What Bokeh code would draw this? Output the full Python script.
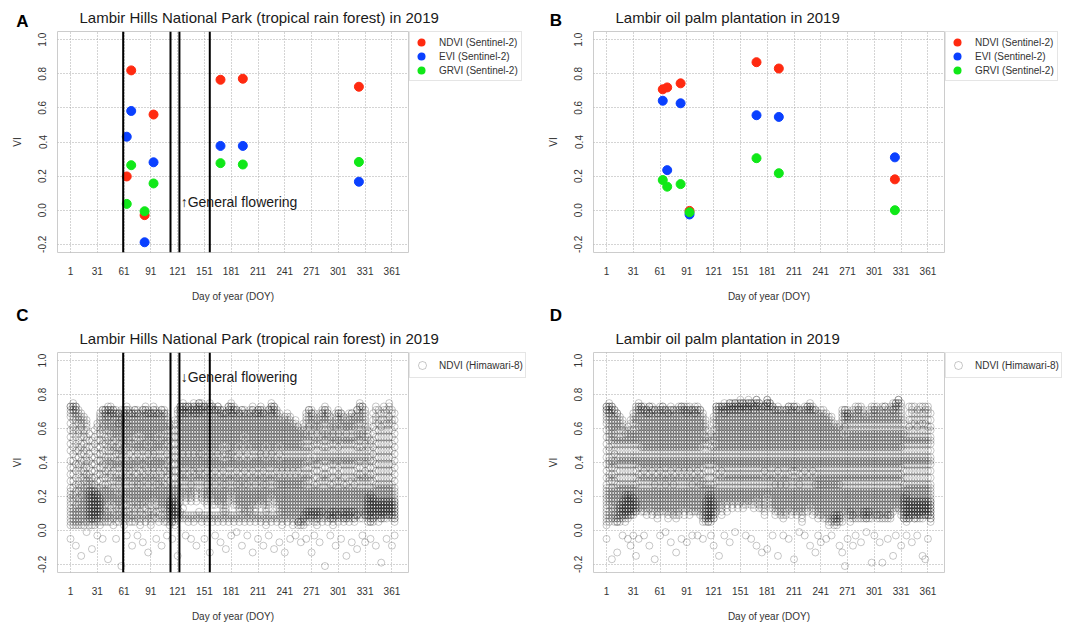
import numpy as np
from bokeh.plotting import figure
from bokeh.models import (Range1d, FixedTicker, PrintfTickFormatter, Legend,
                          LegendItem, Span, Label)
from bokeh.layouts import column, row
from bokeh.embed import file_html
from bokeh.resources import INLINE

# ---------------- data ----------------
x_ticks = [1, 31, 61, 91, 121, 151, 181, 211, 241, 271, 301, 331, 361]
y_ticks = [-0.2, 0.0, 0.2, 0.4, 0.6, 0.8, 1.0]
flowering_doy = [60, 113, 123, 157]

sent_doy = [64, 69, 84, 94, 169, 194, 324]
forest_ndvi = [0.198, 0.820, -0.029, 0.561, 0.765, 0.771, 0.724]
forest_evi = [0.431, 0.582, -0.188, 0.281, 0.377, 0.377, 0.167]
forest_grvi = [0.037, 0.264, -0.006, 0.157, 0.276, 0.268, 0.283]
palm_ndvi = [0.709, 0.720, 0.744, -0.004, 0.868, 0.831, 0.181]
palm_evi = [0.642, 0.235, 0.627, -0.025, 0.557, 0.547, 0.310]
palm_grvi = [0.177, 0.138, 0.153, -0.012, 0.305, 0.217, 0.000]

# Himawari-8 NDVI observations read from the scatter clouds, "DOY: codes".
# Each code letter is one observation: A=-0.25, B=-0.23, ... (steps of 0.02) ... z=0.77
CODE = "ABCDEFGHIJKLMNOPQRSTUVWXYZabcdefghijklmnopqrstuvwxyz"

forest_him = [
    "1: xxwvusqomkhfdbZYXWVUTSRQPOK", "4: yxxwwvutrqpnljhfdbZXWVTSRQPO",
    "7: xxwwvutsqomkigecaYXWUTSRQPOI", "10: wvutsqpnlkigfdbaZYWVUTSRQPO",
    "13: vutsrqomljhgecaZYXWVUTSRQPOF", "16: utsqpomkjhfedcbZYXWVUTSRQPO",
    "19: tsrqonlkihgfdcbaZYXWVUTSRQPM", "22: pnljhfdcbaZYYXXWWVVUUTTSSRRQQPO",
    "25: nligecbaZYYXXWWVVUUTTSSRRQQPOH", "28: qomkigecaZYYXXWWVVUUTTSSRRQQPO",
    "31: srpnljhfdbZYXXWWVVUUTTSSRRQQPL", "34: vutsqpnljhfdbZYXWWVVUUTTSSRRQPO",
    "37: wwvutsrqpnmkjhgfdcaZYXWVUTSRQPK", "40: wwvvutsrqonmkihgedcaZYXWVUTSRQP",
    "43: xwwvuutsrqonlkihfecaZYXWVUSRQPE", "46: xwwvvutsrqpomlkihgfdcbZYXWVTSRQP",
    "49: wwvvutsrqponmlkihgfecbZYXWVUSRQO", "52: wvvutsrqponlkjhgfdcbZYXWVUTRQPK",
    "55: vvutssrqpomlkjhgfdcbaZXWVUTSRQP", "58: wvuttsrqponmkjihgfdcbZYXWVUTSRQC",
    "61: wvvutsrqponmlkjhgfecbZYXWVUSRQPO", "64: xwwvutssrqponmlkihgfdcbZYXWUSRQL",
    "67: wvvutsrqponmljhgfedcbZYXWVUTSRQP", "70: vvutsrqpomlkihgfecbaZYXWVUTRQPI",
    "73: wwvvutsrqponmlkihgfdcbZYXWVTSRQP", "76: wvvutsrqpnmlkjhgfdcbaZYXWVUTRQL",
    "79: vutsrqpnmlkihgfecbaZYXWVUTSRQPO", "82: wwvutsrqponmlkihgedcbZYXWVUTRQJ",
    "85: xwwvvutsrqponmlkihgfdcbZYXWVTRQP", "88: wvvutsrqponlkjhgfecbaZYXWVUSRQG",
    "91: vvutsrqponmlkihgfdcbZYXWVUTSRQPO", "94: xwwvvutsrqponmlkjihgfedcbZYXWSRQ",
    "97: wvvutsrqponmlkihgfdcbaZYXWVUSQK", "100: vvutsrqpnmlkihgfecbaZYXWVUTSRQP",
    "103: wwvutsrqponmlkihgfdcbZYXWVUTRQI", "106: wvvutsrqponmlkihgfecbaZYXWVUTRQP",
    "109: vutsrqonmkjhgedcaZYXWVUTSRQPL", "112: srqonlkihfedbZYXWVVUUTTSSRRQPO",
    "115: qomkigecaZYXWWVVUUTTSSRRQQPPK", "118: tsqomkigecaZYXWVVUUTTSSRRQQPO",
    "121: wvtsqomkigecaZYXWVUUTTSSRRQQF", "124: xxwwvvutsrqponmlkihgfdcbZYXWVSRQ",
    "127: yxxwwvvutsrqponmlkjihgfedcbZYTRQ", "130: xxwvvutsrqponmlkihgfdcbZYXWVRQL",
    "133: xxwwvvutsrqponmlkjihgfdcbZYXWRQP", "136: xwwvutsrqponmlkihgfecbaZYXWVRQK",
    "139: yxxwwvvutsrqponmlkjihgfedcbZYRQP", "142: xwwvvutsrqponmlkihgfdcbZYXWVRQI",
    "145: yyxxwwvvutsrqponmlkjihgfedcbZSRQ", "148: yxxwwvutsrqponmlkjihgfdcbZYXWRQP",
    "151: xxwvvutsrqponmlkihgfdcbZYXWVRQK", "154: xwwvutsrqponmlkihgfecbaZYXWVURQP",
    "157: yxxwwvutsrqponmlkjihgfdcbZYXRQG", "160: xxwwvutsrqponmlkihgfdcbZYXWVURQP",
    "163: wwvutsrqponmlkihgfecbaZYXWVURQL", "166: xxwwvutsrqponmlkjihgfdcbZYXWVRQP",
    "169: wwvvutsrqponmlkihgfdcbZYXWVURQJ", "172: wvvutsrqponmkjhgfecbaZYXWVUTSRQP",
    "175: vvutsrqponmkjhgfdcbaZYXWVUTSRQH", "178: xxwwvutsrqponmlkjihgfdcbZYXWVRQP",
    "181: yxxwwvvutsrqponmlkjihgfdcbZYRQL", "184: xwwvvutsrqponmlkihgfdcbZYXWVURQP",
    "187: wwvutsrqponmlkihgfecbaZYXWVURQM", "190: vvutsrqponmkjhgfdcbaZYXWVUTSRQP",
    "193: wwvutsrqponmlkihgfdcbZYXWVUTRQI", "196: wvvutsrqpnmlkihgfecbaZYXWVUTSRQP",
    "199: vutsrqponmkjhgfdcbaZYXWVUTSRQL", "202: wvvutsrqponmlkihgfdcbZYXWVUTSRQP",
    "205: xwwvutsrqponmlkihgfecbZYXWVURQG", "208: vvutsrqponmlkihgfdcbaZYXWVUTSRQP",
    "211: wwvvutsrqponmlkihgfdcbZYXWVURQK", "214: xwwvvutsrqponmlkjihgfdcbZYXWVRQP",
    "217: wvvutsrqponmlkihgfecbaZYXWVURQI", "220: vutsrqponmkjhgfdcbaZYXWVUTSRQPO",
    "223: wwvutsrqponmlkihgfdcbZYXWVUTRQL", "226: yxxwwvvutsrqponmlkjihgfdcbZYXRQP",
    "229: xxwwvutsrqponmlkihgfdcbZYXWVRQH", "232: wvvutsrqponmlkihgfecbaZYXWVUTRQP",
    "235: vutsrqponmkjhgfdcbaZYXWVUTSRQJ", "238: tsrqponmlkihgfecbaZYXWVUTSRQPO",
    "241: utsrqponmlkihgfdcbaZYXWVUTSRQG", "244: vutsrqponmlkihgfecbaZYXWVUTSRQP",
    "247: utsrqponmlkihgfdcbaZYXWVUTSRQK", "250: srqponmlkihgfecbaZYXWVUTSRQPO",
    "253: tsrqponmlkihgfdcbaZYXWVUTSRQL", "256: rqponmlkihgfecbaZYXWVUTSRQPPO",
    "259: qponmlkihgfdcbaZYXWVUTSRQPPOJ", "262: srqponlkihgfdcbaZYXWVUTSRRQQPO",
    "265: vutsqponlkihfdcbZYXWVUTSSRRQPK", "268: wwvutsrqonlkihfdcbZYXWVUTSSRRQP",
    "271: wvvutsqponlkhgfdbZYXWVUTSSRRQG", "274: vutsrqonmkihgecaZYXWVUTSSRRQPL",
    "277: tsrqpnmkihgecaZYXWVUTSSRRQQPO", "280: vutsrqonmkihgecbZYXWVUTSSRRQJ",
    "283: wvvutsqponlkihfdcbZYXWVUTSSRQP", "286: xwwvutsqponlkihfdcbZYXWVUTSRQC",
    "289: wvvutsqponlkihfdcbZYXWVUTSRRQP", "292: utsrqonmkihgecaZYXWVUTSSRRQQL",
    "295: srqponmkihgecaZYXWVUTSSRRQQPO", "298: vutsrqonmkihgecbZYXWVUTSSRRQI",
    "301: wvvutsqponlkihfdcbZYXWVUTSRRQP", "304: vvutsrqonmkihgecbZYXWVUTSSRQK",
    "307: utsrqonmkihgecaZYXWVUTSSRRQQP", "310: tsrqponmkihgecaZYXWVUTSSRRQQF",
    "313: vutsrqonmkihgecbZYXWVUTSSRRQP", "316: vvutsrqonmkihgecbZYXWVUTSSRQJ",
    "319: utsrqonmkihgecaZYXWVUTSSRRQQP", "322: wwvutsqponlkihfdcbZYXWVUTSRRH",
    "325: yxxwvutsqponlkihfdcbZYXWVUTSRQ", "328: xxwvutsqponlkihfdcbZYXWVUTSRQL",
    "331: wvutsrqonmkihgecbZYXWVUTSSRRJ", "334: rqponlkihfdcbZYXWWVVUUTTSSRRQP",
    "337: nmkihfdcbZYXXWWVVUUTTSSRRQQPPK", "340: vtrpnljhfdbZYXWWVVUUTTSSRRQQP",
    "343: xwutsqomkigecaZYXWVVUUTTSSRRI", "346: wvtsqomkigecaZYXWVVUUTTSSRRQP",
    "349: vtrqomkigecaZYXWVVUUTTSSRRQQD", "352: xwvtsqomkigecaZYXWVVUUTTSSRRQ",
    "355: wvtsqomkigecaZYXWVVUUTTSSRRQK", "358: yxwutsqomkigecaZYXWVVUUTTSSRR",
    "361: wvtsqomkigecaZYXWVVUUTTSSRRQI", "364: vtrpnljhfdbZYXWVVUUTTSSRRQQPL",
]

palm_him = [
    "1: xxwwvutsqomkigecaZYXWVUTSRQPOK", "4: yxxwwvvutsrqponlkihgfdcbZYXWVUSRQP",
    "7: xxwwvutsrqponmkihgfdcbZYXWVUTSRQE", "10: wwvutsrqponmkjhgfdcbZYXWVUTSRQP",
    "13: vvutsrqonmkihgecaZYXWVUTSRQQPPG", "16: utsrqonmkihgecaZYXWVUUTTSSRRQP",
    "19: tsrqonmkihgecaZYXWVVUUTTSSRRQL", "22: qponmkihgecaZYXXWWVVUUTTSSRRQP",
    "25: rqponmkihgecaZYXXWWVVUUTTSSRRQK", "28: tsqponmkihgecaZYXXWWVVUUTTSSRRI",
    "31: vutsqponmkihgecaZYXWWVVUUTTSSRL", "34: xwvutsqponmkihgecaZYXWVVUUTTSSF",
    "37: yxxwwvutsrqponmkihgfdcbZYXWVUTK", "40: xxwwvutsrqponmlkihgfdcbZYXWVUTS",
    "43: xwwvutsrqponmlkihgfecbZYXWVUTSL", "46: wwvvutsrqponmlkihgfdcbZYXWVUTSR",
    "49: xxwvvutsrqponmlkihgfdcbZYXWVUTI", "52: xwwvutsrqponmlkihgfecbZYXWVUTSR",
    "55: wwvutsrqponmlkihgfdcbaZYXWVUTSE", "58: wvvutsrqponmlkihgfdcbZYXWVUTSRQ",
    "61: xwwvutsrqponmlkihgfecbZYXWVUTSL", "64: xxwwvutsrqponmlkihgfdcbZYXWVUTS",
    "67: wwvutsrqponmlkihgfdcbaZYXWVUTSM", "70: wvvutsrqponmlkihgfdcbZYXWVUTSRQ",
    "73: xwwvutsrqponmlkihgfecbZYXWVUTSJ", "76: wwvutsrqponmlkihgfdcbaZYXWVUTSR",
    "79: wvutsrqponmlkihgfdcbZYXWVUTSRQG", "82: xwwvutsrqponmlkihgfecbZYXWVUTSR",
    "85: xxwwvutsrqponmlkihgfdcbZYXWVUTK", "88: xwwvutsrqponmlkihgfecbZYXWVUTSR",
    "91: xwwvvutsrqponmlkihgfdcbZYXWVUTJ", "94: xwwvutsrqponmlkihgfecbZYXWVUTSR",
    "97: wwvutsrqponmlkihgfdcbaZYXWVUTSL", "100: xwwvvutsrqponmlkihgfdcbZYXWVUTS",
    "103: xwwvutsrqponmlkihgfecbZYXWVUTSL", "106: wwvutsrqponmlkihgfdcbaZYXWVUTSR",
    "109: vutsrqponmkihgfdcbaZYXWVUTSRQPK", "112: tsrqonmkihgecaZYXWVVUUTTSSRRQQP",
    "115: qonmkihgecaZYXXWWVVUUTTSSRRQQPP", "118: ponlkihgecaZYXXWWVVUUTTSSRRQQPL",
    "121: utsqonlkihgecaZYXWVVUUTTSSRRQQI", "124: xxwwvutsrqponmlkihgfdcbZYXWVUTS",
    "127: xxwwvutsrqponmlkihgfdcbZYXWVUTF", "130: xxwvutsrqponmlkihgfecbZYXWVUTSR",
    "133: yxxwwvvutsrqponmlkihgfdcbZYXWVL", "136: xxwwvutsrqponmlkihgfdcbZYXWVUTS",
    "139: yyxxwwvutsrqponmlkihgfdcbZYXWVJ", "142: yxxwwvutsrqponmlkihgfdcbZYXWVUT",
    "145: yyxxwwvutsrqponmlkihgfdcbZYXWVM", "148: yxxwwvutsrqponmlkihgfdcbZYXWVUT",
    "151: zyyxxwwvutsrqponmlkihgfdcbZYXWV", "154: yyxxwvutsrqponmlkihgfdcbZYXWVUT",
    "157: yxxwwvutsrqponmlkihgfdcbZYXWVUL", "160: zyyxxwwvutsrqponmlkihgfdcbZYXWV",
    "163: yyxxwvutsrqponmlkihgfdcbZYXWVUK", "166: yxxwwvutsrqponmlkihgfdcbZYXWVUT",
    "169: zzyyxxwvutsrqponmlkihgfdcbZYXWI", "172: yyxxwvutsrqponmlkihgfdcbZYXWVUT",
    "175: xxwwvutsrqponmlkihgfdcbZYXWVUTG", "178: xxwvutsrqponmlkihgfecbZYXWVUTSR",
    "181: zzyyyxxwvutsrqponmlkihgfdcbZYXH", "184: yyxxwvutsrqponmlkihgfdcbZYXWVUT",
    "187: xxwwvutsrqponmlkihgfdcbZYXWVUTL", "190: wwvutsrqponmlkihgfdcbaZYXWVUTSR",
    "193: xwwvutsrqponmlkihgfecbZYXWVUTSF", "196: wwvutsrqponmlkihgfdcbaZYXWVUTSR",
    "199: wvutsrqponmlkihgfdcbZYXWVUTSRQL", "202: wwvutsrqponmlkihgfdcbaZYXWVUTSR",
    "205: xxwwvutsrqponmlkihgfdcbZYXWVUTK", "208: xwwvutsrqponmlkihgfecbZYXWVUTSR",
    "211: xxwvutsrqponmlkihgfecbZYXWVUTSE", "214: xwwvutsrqponmlkihgfecbZYXWVUTSR",
    "217: wwvutsrqponmlkihgfdcbaZYXWVUTSM", "220: wvutsrqponmlkihgfdcbZYXWVUTSRQP",
    "223: xwwvutsrqponmlkihgfecbZYXWVUTSL", "226: xxwwvutsrqponmlkihgfdcbZYXWVUTS",
    "229: yxxwwvutsrqponmlkihgfdcbZYXWVUI", "232: xwwvutsrqponmlkihgfecbZYXWVUTSR",
    "235: wwvutsrqponmlkihgfdcbaZYXWVUTSG", "238: vutsrqponmlkihgfdcbaZYXWVUTSRQL",
    "241: wvutsrqponmlkihgfdcbaZYXWVUTSRJ", "244: wvutsrqponmlkihgfdcbaZYXWVUTSRQ",
    "247: vutsrqponmlkihgfdcbaZYXWVUTSRQK", "250: utsrqponmlkihgfdcbaZYXWVUTSRQPO",
    "253: utsrqponmlkihgfdcbaZYXWVUTSRQPL", "256: srqponmlkihgfdcbaZYXWVUTSRRQQPO",
    "259: rqponmlkihgfdcbaZYXWVUTSRRQQPPO", "262: srqponmlkihgfdcbaZYXWVUTSRRQQPI",
    "265: wvutsqponmlkihgfdcbZYXWVUTSRQPG", "268: wwvvuutsrqonmlkihgfdcbZYXWVUTSC",
    "271: wvvuutsqponmlkihgfdcbZYXWVUTSRK", "274: vutsqponmlkihgfdcbZYXWVUTSSRRQP",
    "277: wvutsqponmlkihgfdcbZYXWVUTSRRQI", "280: xwvutsqponmlkihgfdcbZYXWVUTSRQL",
    "283: xwwvutsqponmlkihgfdcbZYXWVUTSRQ", "286: xwvutsqponmlkihgfdcbZYXWVUTSRQJ",
    "289: wvutsqponmlkihgfdcbZYXWVUTSSRRQ", "292: utsqponmlkihgfdcbZYXWVUTSSRRQQM",
    "295: wvutsqponmlkihgfdcbZYXWVUTSSRRQ", "298: xwvutsqponmlkihgfdcbZYXWVUTSRQD",
    "301: xwwvutsqponmlkihgfdcbZYXWVUTSRL", "304: xwvutsqponmlkihgfdcbZYXWVUTSRRQ",
    "307: wvutsqponmlkihgfdcbZYXWVUTSRRQJ", "310: xwvutsqponmlkihgfdcbZYXWVUTSRQD",
    "313: xxwvutsqponmlkihgfdcbZYXWVUTSRQ", "316: wvutsqponmlkihgfdcbZYXWVUTSRRQK",
    "319: xwvutsqponmlkihgfdcbZYXWVUTSRRQ", "322: yxwwvutsqponmlkihgfdcbZYXWVUTSF",
    "325: yyxxwvutsqponmlkihgfdcbZYXWVUTL", "328: zzyyxwvutsqponmlkihgfdcbZYXWVUT",
    "331: yxwvutsqponmlkihgfdcbZYXWVUTSRI", "334: tsqponmkihgecaZYXWWVVUUTTSSRRQQ",
    "337: qonmkihgecaZYXXWWVVUUTTSSRRQQPL", "340: xvtrqonmkihgecaZYXWVVUUTTSSRRQQ",
    "343: xwvtsqonmkihgecaZYXWVVUUTTSSRRJ", "346: xvtsqonmkihgecaZYXWVVUUTTSSRRQQ",
    "349: wvtrqonmkihgecaZYXWVVUUTTSSRRQL", "352: xwvtsqonmkihgecaZYXWVVUUTTSSRRQ",
    "355: xvtsqonmkihgecaZYXWVVUUTTSSRRQF", "358: xwvtsqonmkihgecaZYXWVVUUTTSSRRE",
    "361: xwvtrqonmkihgecaZYXWVVUUTTSSRRK", "364: vtrqonmkihgecaZYXWVVUUTTSSRRQQP",
]


def parse_rows(rows):
    xs, ys = [], []
    for r in rows:
        d, codes = r.split(":")
        for c in codes.strip():
            xs.append(int(d))
            ys.append(round(-0.25 + 0.02 * CODE.index(c), 2))
    return xs, ys


# ---------------- styling ----------------
FONT = "Liberation Sans"
RED, BLUE, GREEN = "#FF2A10", "#0A40FF", "#10E818"
TXT = "#333333"
HIM_STYLE = dict(size=7, marker="circle", fill_color=None, line_color="black",
                 line_alpha=0.22, line_width=1)


def blank_fig(w, h):
    p = figure(width=w, height=h, x_range=Range1d(0, w), y_range=Range1d(0, h),
               x_axis_type=None, y_axis_type=None, output_backend="svg",
               toolbar_location=None, min_border=0)
    p.min_border_left = p.min_border_right = p.min_border_top = p.min_border_bottom = 0
    p.outline_line_color = None
    p.grid.visible = False
    p.title.visible = False
    return p


def header(w, h, letter, letter_x, letter_y, title, title_x, title_y):
    p = blank_fig(w, h)
    p.add_layout(Label(x=letter_x, y=h - letter_y, text=letter, text_font=FONT,
                       text_font_size="17px", text_font_style="bold", text_color="black",
                       text_baseline="middle", text_align="center"))
    p.add_layout(Label(x=title_x, y=h - title_y, text=title, text_font=FONT,
                       text_font_size="15px", text_color="#1a1a1a",
                       text_baseline="middle", text_align="left"))
    return p


def main_fig(height, bottom):
    p = figure(width=409, height=height,
               x_range=Range1d(-13.56, 379.56), y_range=Range1d(-0.248, 1.048),
               output_backend="svg", toolbar_location=None,
               min_border_left=57, min_border_right=1,
               min_border_top=1, min_border_bottom=bottom)
    p.title.visible = False
    p.outline_line_color = "#cccccc"
    p.background_fill_color = "white"
    p.border_fill_color = "white"
    p.xaxis.ticker = FixedTicker(ticks=x_ticks)
    p.yaxis.ticker = FixedTicker(ticks=y_ticks)
    p.yaxis.formatter = PrintfTickFormatter(format="%.1f")
    for ax in p.xaxis + p.yaxis:
        ax.axis_line_color = None
        ax.major_tick_line_color = None
        ax.minor_tick_line_color = None
        ax.major_tick_out = 0
        ax.major_tick_in = 0
        ax.minor_tick_out = 0
        ax.minor_tick_in = 0
        ax.major_label_text_font = FONT
        ax.major_label_text_font_size = "10px"
        ax.major_label_text_color = TXT
        ax.axis_label_text_font = FONT
        ax.axis_label_text_font_size = "10px"
        ax.axis_label_text_font_style = "normal"
        ax.axis_label_text_color = TXT
        ax.axis_label_standoff = 13
    p.xaxis.axis_label = "Day of year (DOY)"
    p.yaxis.axis_label = "VI"
    p.xaxis.major_label_standoff = 14
    p.yaxis.major_label_standoff = 11
    p.yaxis.major_label_orientation = "vertical"
    p.grid.grid_line_color = "#a8a8a8"
    p.grid.grid_line_dash = "1 2"
    p.grid.grid_line_width = 1
    return p


def legend_fig(w, h, entries, pad, standoff, gw, gh):
    p = blank_fig(w, h)
    items = []
    for label, style in entries:
        # a placeholder row (NaN position) so the legend can draw the glyph style
        r = p.scatter(x=np.array([np.nan]), y=np.array([np.nan]), **style)
        items.append(LegendItem(label=label, renderers=[r]))
    leg = Legend(items=items, location="top_left", margin=0, padding=pad,
                 spacing=0, glyph_width=gw, glyph_height=gh, label_height=gh,
                 label_standoff=standoff, label_text_font=FONT,
                 label_text_font_size="10px", label_text_color=TXT,
                 label_text_baseline="middle",
                 border_line_color="#cccccc", border_line_width=1,
                 background_fill_color="white", background_fill_alpha=1.0)
    p.add_layout(leg)
    return p


def add_flowering(p, y, arrow):
    for d in flowering_doy:
        p.add_layout(Span(location=d, dimension="height", line_color="black", line_width=2))
    p.add_layout(Label(x=124.4, y=y, text=arrow + "General flowering", text_font=FONT,
                       text_font_size="14px", text_color="#1a1a1a",
                       text_baseline="middle", text_align="left"))


def dot(color):
    return dict(marker="circle", fill_color=color, line_color=color, line_width=2.5)


def sentinel_panel(col_w, ndvi, evi, grvi, letter, letter_x, letter_y, title, flowering):
    head = header(col_w, 30, letter, letter_x, letter_y, title, 79, 17)
    p = main_fig(275, 53)
    p.scatter(sent_doy, ndvi, size=9, color=RED, marker="circle")
    p.scatter(sent_doy, evi, size=9, color=BLUE, marker="circle")
    p.scatter(sent_doy, grvi, size=9, color=GREEN, marker="circle")
    if flowering:
        add_flowering(p, 0.05, "\u2191")
    leg = legend_fig(col_w - 409, 275,
                     [("NDVI (Sentinel-2)", dot(RED)),
                      ("EVI (Sentinel-2)", dot(BLUE)),
                      ("GRVI (Sentinel-2)", dot(GREEN))],
                     3, 10, 16, 14)
    return column(head, row(p, leg))


def himawari_panel(col_w, rows, letter, letter_x, title, flowering):
    head = header(col_w, 46, letter, letter_x, 10, title, 79, 33)
    p = main_fig(273, 51)
    xs, ys = parse_rows(rows)
    p.scatter(xs, ys, **HIM_STYLE)
    if flowering:
        add_flowering(p, 0.905, "\u2193")
    leg = legend_fig(col_w - 409, 273, [("NDVI (Himawari-8)", HIM_STYLE)], 2, 7, 20, 20)
    return column(head, row(p, leg))


pA = sentinel_panel(536, forest_ndvi, forest_evi, forest_grvi, "A", 22, 21,
                    "Lambir Hills National Park (tropical rain forest) in 2019", True)
pB = sentinel_panel(538, palm_ndvi, palm_evi, palm_grvi, "B", 19.5, 20,
                    "Lambir oil palm plantation in 2019", False)
pC = himawari_panel(536, forest_him, "C", 22,
                    "Lambir Hills National Park (tropical rain forest) in 2019", True)
pD = himawari_panel(538, palm_him, "D", 19.5,
                    "Lambir oil palm plantation in 2019", False)

layout = column(row(pA, pB), row(pC, pD))
open("out.html", "w").write(file_html(layout, INLINE))
